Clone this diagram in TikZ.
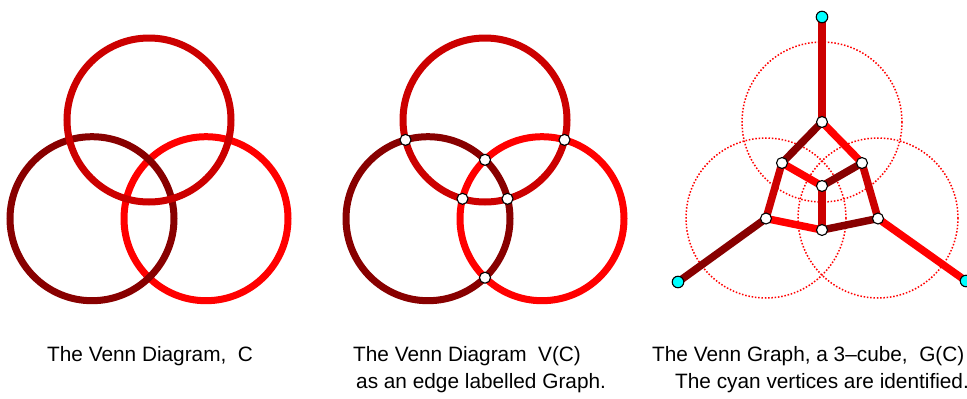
\documentclass[tikz,border=0pt]{standalone}
\usepackage{fontspec}
\setmainfont{Liberation Sans}
\usetikzlibrary{backgrounds}
\definecolor{vA}{RGB}{204,0,0}
\definecolor{vB}{RGB}{136,0,0}
\definecolor{vC}{RGB}{255,0,0}
\definecolor{cyanv}{RGB}{0,255,255}
\begin{document}
\begin{tikzpicture}[x=1pt,y=-1pt,
  venn/.style={line width=7pt},
  dotc/.style={draw=vC,line width=1.5pt,dash pattern=on 1.5pt off 1.8pt},
  gedge/.style={line width=7.5pt},
  wvert/.style={circle,fill=white,draw=black,line width=1.1pt,inner sep=0pt,minimum size=11pt},
  cvert/.style={circle,fill=cyanv,draw=black,line width=1.1pt,inner sep=0pt,minimum size=11.5pt},
  lbl/.style={anchor=base west,inner sep=0pt,font=\fontsize{20.8}{25}\selectfont}]
\useasboundingbox (0,0) rectangle (967,399);

% ---------- Panel 1 ----------
\coordinate (T1) at (149,120);
\coordinate (L1) at (92,218.7);
\coordinate (R1) at (206,218.7);
\draw[venn,vC] (R1) circle[radius=82];
\draw[venn,vB] (L1) circle[radius=82];
\draw[venn,vA] (T1) circle[radius=82];

% ---------- Panel 2 ----------
\coordinate (T2) at (485,120);
\coordinate (L2) at (428,218.7);
\coordinate (R2) at (542,218.7);
\draw[venn,vC] (R2) circle[radius=82];
\draw[venn,vB] (L2) circle[radius=82];
\draw[venn,vA] (T2) circle[radius=82];
\node[wvert] (pTL) at (405.5,139.9) {};
\node[wvert] (pTR) at (564.5,139.9) {};
\node[wvert] (pLR) at (485,159.8) {};
\node[wvert] (pTRi) at (462.5,198.8) {};
\node[wvert] (pTLi) at (507.5,198.8) {};
\node[wvert] (pLRo) at (485,277.7) {};

% ---------- Panel 3 ----------
\coordinate (T3) at (822,122);
\coordinate (L3) at (766,218);
\coordinate (R3) at (878,218);

\node[cvert] (oT) at (822,17) {};
\node[cvert] (oL) at (678,282) {};
\node[cvert] (oR) at (966,281) {};
\node[wvert] (A) at (822,122) {};
\node[wvert] (AB) at (782,163) {};
\node[wvert] (AC) at (862,163) {};
\node[wvert] (ABC) at (822,186) {};
\node[wvert] (B) at (766,218.5) {};
\node[wvert] (C) at (878,218.5) {};
\node[wvert] (BC) at (822,230) {};

\begin{scope}[on background layer]
\fill[white] (0,0) rectangle (967,399);
\draw[dotc] (T3) circle[radius=80];
\draw[dotc] (L3) circle[radius=80];
\draw[dotc] (R3) circle[radius=80];
\draw[gedge,vA] (oT.center) -- (A.center);
\draw[gedge,vB] (A.center) -- (AB.center);
\draw[gedge,vC] (A.center) -- (AC.center);
\draw[gedge,vC] (AB.center) -- (ABC.center);
\draw[gedge,vB] (AC.center) -- (ABC.center);
\draw[gedge,vA] (AB.center) -- (B.center);
\draw[gedge,vA] (AC.center) -- (C.center);
\draw[gedge,vA] (ABC.center) -- (BC.center);
\draw[gedge,vC] (B.center) -- (BC.center);
\draw[gedge,vB] (BC.center) -- (C.center);
\draw[gedge,vB] (B.center) -- (oL.center);
\draw[gedge,vC] (C.center) -- (oR.center);
\end{scope}

% ---------- Labels ----------
\node[lbl] (t1) at (47,361) {The Venn Diagram,\ \ C};
\node[lbl] (t2) at (353,361) {The Venn Diagram\ \ V(C)};
\node[lbl] (t3) at (356,388) {as an edge labelled Graph.};
\node[lbl] (t4) at (652,361) {The Venn Graph, a 3–cube,\ \ G(C)};
\node[lbl] (t5) at (675,388) {The cyan vertices are identified.};
\end{tikzpicture}
\end{document}
